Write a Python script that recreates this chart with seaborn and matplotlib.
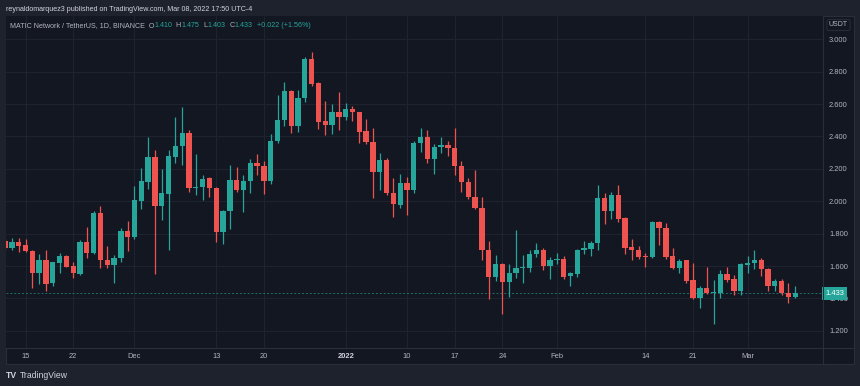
import numpy as np
import pandas as pd
import matplotlib
matplotlib.use("Agg")
import matplotlib.pyplot as plt
from matplotlib.patches import Rectangle
from matplotlib.lines import Line2D
from matplotlib.text import Annotation
import seaborn as sns

# ---------------- data (MATIC/USDT, 1D, BINANCE) ----------------
dates = pd.date_range("2021-11-12", "2022-03-08", freq="D")

opens = [
    1.753, 1.714, 1.751, 1.728, 1.695, 1.555, 1.636, 1.494, 1.621, 1.662,
    1.599, 1.553, 1.751, 1.681, 1.926, 1.640, 1.609, 1.650, 1.817, 1.780,
    2.004, 2.121, 2.271, 1.973, 2.047, 2.276, 2.344, 2.422, 2.084,
    2.088, 2.142, 2.082, 1.813, 1.940, 2.129, 2.068, 2.125, 2.234, 2.220,
    2.125, 2.370, 2.500, 2.683, 2.465, 2.636, 2.878, 2.728, 2.494, 2.473,
    2.553, 2.522, 2.570, 2.551, 2.434, 2.366, 2.179, 2.253, 2.051, 1.979,
    2.115, 2.070, 2.362, 2.395, 2.263, 2.333, 2.346, 2.331, 2.220, 2.119,
    2.029, 1.959, 1.697, 1.535, 1.615, 1.504, 1.555, 1.588, 1.590, 1.673,
    1.697, 1.603, 1.640, 1.646, 1.537, 1.553, 1.697, 1.708, 1.741,
    2.018, 1.940, 2.039, 1.895, 1.716, 1.701, 1.662, 1.654, 1.872, 1.835,
    1.660, 1.590, 1.636, 1.512, 1.401, 1.463, 1.432, 1.434, 1.551, 1.518,
    1.448, 1.609, 1.619, 1.638, 1.584, 1.477, 1.508, 1.434, 1.410,
]
highs = [
    1.770, 1.772, 1.776, 1.765, 1.700, 1.675, 1.700, 1.627, 1.683, 1.666,
    1.623, 1.761, 1.843, 1.940, 1.971, 1.726, 1.666, 1.833, 1.880, 2.094,
    2.204, 2.399, 2.317, 2.199, 2.317, 2.522, 2.584, 2.441, 2.292,
    2.164, 2.150, 2.090, 1.946, 2.224, 2.210, 2.162, 2.261, 2.292, 2.249,
    2.415, 2.656, 2.734, 2.687, 2.687, 2.893, 2.924, 2.734, 2.619, 2.601,
    2.677, 2.605, 2.588, 2.551, 2.508, 2.450, 2.300, 2.265, 2.142, 2.168,
    2.148, 2.372, 2.450, 2.440, 2.354, 2.399, 2.372, 2.455, 2.249, 2.146,
    2.193, 2.025, 1.757, 1.669, 1.620, 1.613, 1.823, 1.669, 1.699, 1.741,
    1.710, 1.654, 1.679, 1.664, 1.564, 1.703, 1.757, 1.755, 2.101,
    2.049, 2.059, 2.101, 1.900, 1.765, 1.724, 1.683, 1.880, 1.880, 1.864,
    1.712, 1.642, 1.638, 1.617, 1.477, 1.596, 1.514, 1.576, 1.596, 1.545,
    1.617, 1.662, 1.699, 1.650, 1.590, 1.520, 1.518, 1.494, 1.475,
]
lows = [
    1.700, 1.700, 1.689, 1.685, 1.467, 1.488, 1.444, 1.479, 1.560, 1.593,
    1.525, 1.545, 1.650, 1.676, 1.590, 1.586, 1.494, 1.627, 1.695, 1.767,
    1.950, 2.074, 1.549, 1.885, 1.701, 2.234, 2.224, 2.059, 2.039,
    2.008, 2.029, 1.751, 1.736, 1.831, 2.059, 1.936, 2.053, 2.162, 2.045,
    2.107, 2.358, 2.463, 2.424, 2.428, 2.615, 2.714, 2.444, 2.407, 2.413,
    2.440, 2.502, 2.496, 2.362, 2.352, 2.022, 2.068, 2.039, 1.901, 1.958,
    1.918, 2.049, 2.306, 2.239, 2.169, 2.296, 2.282, 2.162, 2.055, 2.012,
    1.953, 1.638, 1.397, 1.510, 1.306, 1.411, 1.525, 1.498, 1.566, 1.654,
    1.576, 1.522, 1.613, 1.520, 1.477, 1.535, 1.675, 1.664, 1.699,
    1.860, 1.889, 1.874, 1.675, 1.638, 1.642, 1.594, 1.648, 1.730, 1.642,
    1.580, 1.559, 1.494, 1.397, 1.343, 1.428, 1.243, 1.401, 1.504, 1.422,
    1.422, 1.555, 1.582, 1.541, 1.448, 1.448, 1.422, 1.370, 1.403,
]
closes = [
    1.714, 1.751, 1.724, 1.693, 1.555, 1.636, 1.492, 1.623, 1.662, 1.597,
    1.555, 1.751, 1.683, 1.926, 1.638, 1.609, 1.650, 1.817, 1.782, 2.008,
    2.125, 2.271, 1.973, 2.049, 2.280, 2.342, 2.422, 2.084, 2.090,
    2.138, 2.084, 1.813, 1.940, 2.129, 2.068, 2.125, 2.234, 2.220, 2.125,
    2.372, 2.502, 2.683, 2.463, 2.640, 2.878, 2.724, 2.492, 2.473, 2.553,
    2.522, 2.570, 2.549, 2.430, 2.366, 2.179, 2.253, 2.049, 1.983, 2.115,
    2.068, 2.362, 2.399, 2.263, 2.333, 2.346, 2.331, 2.218, 2.119, 2.029,
    1.957, 1.697, 1.535, 1.615, 1.504, 1.555, 1.588, 1.592, 1.673, 1.697,
    1.603, 1.640, 1.646, 1.535, 1.557, 1.697, 1.712, 1.741, 2.018,
    1.940, 2.039, 1.891, 1.714, 1.699, 1.656, 1.654, 1.872, 1.833, 1.654,
    1.590, 1.631, 1.508, 1.401, 1.463, 1.432, 1.440, 1.551, 1.512, 1.448,
    1.613, 1.621, 1.638, 1.584, 1.477, 1.508, 1.432, 1.409, 1.433,
]

tick_dates = ["2021-11-15", "2021-11-22", "2021-12-01", "2021-12-13", "2021-12-20",
              "2022-01-01", "2022-01-10", "2022-01-17", "2022-01-24", "2022-02-01",
              "2022-02-14", "2022-02-21", "2022-03-01"]
tick_labels = ["15", "22", "Dec", "13", "20", "2022", "10", "17", "24", "Feb",
               "14", "21", "Mar"]
price_ticks = [1.2, 1.4, 1.6, 1.8, 2.0, 2.2, 2.4, 2.6, 2.8, 3.0]

# ---------------- style ----------------
TEAL = "#26a69a"
RED = "#ef5350"
BG = "#131722"
OUTER = "#1e222d"
GRID = "#1f2330"
LINE = "#2a2e39"
TXT = "#b2b5be"

sns.set_theme(style="dark", rc={"axes.facecolor": BG, "figure.facecolor": OUTER})
plt.rcParams["font.family"] = ["Liberation Sans", "DejaVu Sans"]

W, H = 860, 386
fig = plt.figure(figsize=(W / 100, H / 100), dpi=100, facecolor=OUTER)


def fx(px):
    return px / W


def fy(py):
    return 1 - py / H


# pane background (chart + price axis + time axis)
fig.patches.append(Rectangle((fx(6), fy(364)), fx(854) - fx(6), fy(16) - fy(364),
                             transform=fig.transFigure, fc=BG, ec=LINE, lw=0.8, zorder=-5))

ax = fig.add_axes([fx(6), fy(348), fx(823) - fx(6), fy(16) - fy(348)])
ax.set_facecolor(BG)

df = pd.DataFrame({"date": dates, "open": opens, "high": highs, "low": lows, "close": closes})
up = df["close"] >= df["open"]
cols = np.where(up, TEAL, RED)
body_bottom = np.minimum(df["open"], df["close"])
body_h = np.maximum((df["close"] - df["open"]).abs(), 0.006)

ax.vlines(df["date"], df["low"], df["high"], colors=cols, linewidth=0.9, zorder=3)
ax.bar(df["date"], body_h, bottom=body_bottom, width=0.78, color=cols, linewidth=0, zorder=4)

last_close = closes[-1]
ax.axhline(last_close, color=TEAL, lw=0.7, ls=(0, (2, 2)), alpha=0.6, zorder=2)

x0 = pd.Timestamp("2021-11-15")
ax.set_xlim(x0 - pd.Timedelta(days=2.863), x0 + pd.Timedelta(days=117.07))
ax.set_ylim(1.0944, 3.1438)

ax.set_xticks(pd.to_datetime(tick_dates))
ax.set_xticklabels(tick_labels)
ax.set_yticks(price_ticks)
ax.set_yticklabels([f"{v:.3f}" for v in price_ticks])
ax.yaxis.tick_right()
ax.tick_params(axis="y", length=0, pad=4.3, labelsize=5.4, labelcolor=TXT)
ax.tick_params(axis="x", length=0, pad=3.8, labelsize=5.4, labelcolor=TXT)
for lab in ax.get_xticklabels():
    if lab.get_text() == "2022":
        lab.set_fontweight("bold")
        lab.set_color("#d1d4dc")
ax.grid(True, color=GRID, lw=0.75)
ax.set_axisbelow(True)
for s in ax.spines.values():
    s.set_visible(False)

# last price tag
ax.text(1.0025, last_close, f"{last_close:.3f}", transform=ax.get_yaxis_transform(),
        ha="left", va="center", color="white", fontsize=5.4, zorder=10, clip_on=False,
        bbox=dict(boxstyle="square,pad=0.4", fc=TEAL, ec="none"))

# separators
fig.add_artist(Line2D([fx(823), fx(823)], [fy(16), fy(364)], color=LINE, lw=0.8,
                      transform=fig.transFigure))
fig.add_artist(Line2D([fx(6), fx(854)], [fy(348), fy(348)], color=LINE, lw=0.8,
                      transform=fig.transFigure))

# USDT label
fig.text(fx(838.5), fy(25), "USDT", ha="center", va="center", fontsize=5.0, color=TXT,
         bbox=dict(boxstyle="round,pad=0.3,rounding_size=0.3", fc=BG, ec=LINE, lw=0.7))

# header
fig.text(fx(6), fy(9.3), "reynaldomarquez3 published on TradingView.com, Mar 08, 2022 17:50 UTC-4",
         ha="left", va="center", fontsize=5.1, color="#d1d4dc")

segs = [("MATIC Network / TetherUS, 1D, BINANCE  O", TXT), ("1.410", TEAL), ("  H", TXT),
        ("1.475", TEAL), ("  L", TXT), ("1.403", TEAL), ("  C", TXT), ("1.433", TEAL),
        ("  +0.022 (+1.56%)", TEAL)]
prev = fig.text(fx(10), fy(25.5), segs[0][0], ha="left", va="center", fontsize=5.1,
                color=segs[0][1], zorder=20)
for t, c in segs[1:]:
    prev = fig.add_artist(Annotation(t, xy=(1, 0), xycoords=prev, ha="left", va="bottom",
                                     fontsize=5.1, color=c, annotation_clip=False))

# footer
fig.text(fx(6), fy(376), "TV", ha="left", va="center", fontsize=6.2, fontweight="bold", color="#d1d4dc")
fig.text(fx(20), fy(376), "TradingView", ha="left", va="center", fontsize=6.2, color="#d1d4dc")

fig.savefig("out.png", dpi=100, facecolor=OUTER)
